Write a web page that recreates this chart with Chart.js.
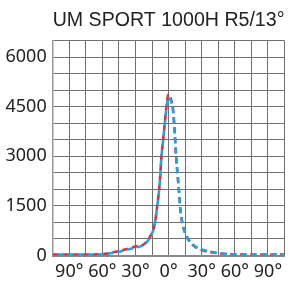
<!DOCTYPE html>
<html>
<head>
<meta charset="utf-8">
<script src="https://cdn.jsdelivr.net/npm/chart.js@4"></script>
<style>
html,body{margin:0;padding:0;background:#fff;}
#wrap{width:300px;height:298px;position:relative;}
</style>
</head>
<body>
<div id="wrap"><canvas id="c" width="300" height="298"></canvas></div>
<script>
const title = "UM SPORT 1000H R5/13°";
const angles   = [-105, -90, -75, -60, -45, -30, -22, -17, -12.6, -10.5, -8.7, -7.5, -6.6, -5.1, -3.6, -2.1, 0, 2, 3.9, 5.1, 6, 6.9, 8.1, 9.4, 10.5, 12.6, 16.5, 22.5, 30, 45, 60, 75, 90, 105];
const redSeries  = [30, 30, 30, 40, 135, 270, 350, 560, 950, 1450, 1950, 2450, 2950, 3450, 3950, 4450, 4870, 4750, 4450, 3950, 3450, 2950, 2450, 1950, 1450, 950, 560, 300, 165, 70, 30, 30, 30, 30];
const blueSeries = [30, 30, 30, 35, 115, 240, 330, 540, 940, 1440, 1940, 2440, 2940, 3440, 3940, 4420, 4780, 4680, 4420, 3960, 3460, 2960, 2460, 1960, 1460, 970, 580, 320, 185, 80, 30, 30, 30, 30];
const xLabels = {"-90": "90°", "-60": "60°", "-30": "30°", "0": "0°", "30": "30°", "60": "60°", "90": "90°"};
const yLabels = [0, 1500, 3000, 4500, 6000];

const toPts = arr => angles.map((a, i) => ({x: a, y: arr[i]}));

new Chart(document.getElementById('c'), {
  type: 'line',
  data: {
    datasets: [
      {data: toPts(blueSeries), borderColor: '#1da6e4', borderWidth: 2.6, borderDash: [6, 4], borderDashOffset: 5, pointRadius: 0, cubicInterpolationMode: 'monotone', fill: false},
      {data: toPts(redSeries), borderColor: '#e8283c', borderWidth: 2.6, borderDash: [6, 4], pointRadius: 0, cubicInterpolationMode: 'monotone', fill: false}
    ]
  },
  options: {
    responsive: false,
    animation: false,
    layout: {padding: {left: 0, right: 15.5, top: 0, bottom: 0}},
    plugins: {
      legend: {display: false},
      tooltip: {enabled: false},
      title: {
        display: true, text: title, fullSize: false,
        color: '#222',
        font: {family: '"Liberation Sans Narrow", "Liberation Sans", sans-serif', size: 20.5, weight: 'normal'},
        padding: {top: 8, bottom: 8}
      }
    },
    scales: {
      x: {
        type: 'linear', min: -105, max: 105,
        afterBuildTicks: s => { const t = []; for (let v = -105; v <= 105; v += 15) t.push({value: v}); s.ticks = t; },
        afterFit: s => { s.height = 42.5; },
        grid: {color: '#707070', lineWidth: 1, drawTicks: false},
        border: {color: '#8a8a8a', width: 2},
        ticks: {
          autoSkip: false, maxRotation: 0, padding: 6, color: '#222',
          font: {family: '"Noto Sans", "Open Sans", sans-serif', size: 18},
          callback: v => xLabels[String(v)] || ''
        }
      },
      y: {
        min: 0, max: 6500,
        afterBuildTicks: s => { const t = []; for (let v = 0; v <= 6500; v += 500) t.push({value: v}); s.ticks = t; },
        afterFit: s => { s.width = 52.7; },
        grid: {color: '#707070', lineWidth: 1, drawTicks: false},
        border: {color: '#9a9a9a', width: 1.5},
        ticks: {
          autoSkip: false, padding: 6, color: '#222',
          font: {family: '"Noto Sans", "Open Sans", sans-serif', size: 18},
          callback: v => yLabels.includes(v) ? String(v) : ''
        }
      }
    }
  }
});
</script>
</body>
</html>
